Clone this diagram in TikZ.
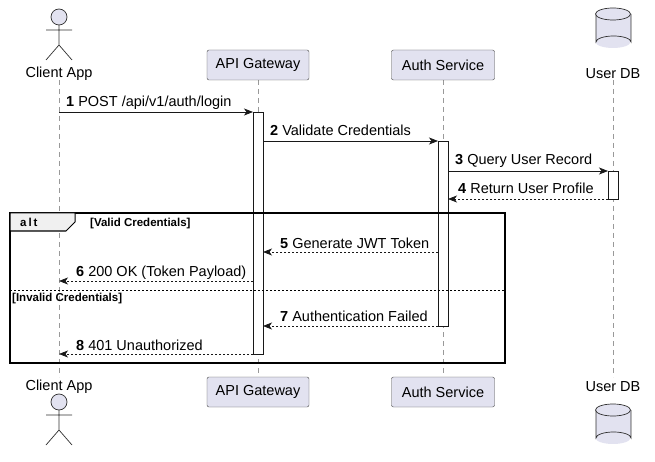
\documentclass[tikz,border=0pt]{standalone}
\usepackage{fontspec}
\setmainfont{Liberation Sans}
\usetikzlibrary{arrows.meta}
\definecolor{pbox}{HTML}{E2E2F0}
\definecolor{pline}{HTML}{181818}
\begin{document}
\begin{tikzpicture}[x=1pt,y=-1pt,
  font=\fontsize{14.5}{17}\selectfont,
  part/.style={draw=pline!80,fill=pbox,rounded corners=2pt,minimum width=#1,minimum height=30,inner sep=0},
  life/.style={draw=gray!80,dash pattern=on 5pt off 4pt,line width=0.6pt},
  act/.style={draw=pline,fill=white,line width=0.7pt},
  msg/.style={draw=pline,line width=0.7pt,-{Stealth[length=9pt,width=7pt,inset=2.5pt]}},
  ret/.style={msg,dash pattern=on 2pt off 2pt},
  lbl/.style={anchor=base west,inner sep=0},
  actor/.style={draw=pline!90,line width=0.7pt},
  grp/.style={font=\fontsize{11.5}{12}\bfseries\selectfont,anchor=base west,inner sep=0}]
\useasboundingbox (0,0) rectangle (655,462);
% lifelines
\coordinate (c1) at (59,80); \coordinate (c2) at (59,377);
\coordinate (a1) at (258,80); \coordinate (a2) at (258,377);
\coordinate (s1) at (443,80); \coordinate (s2) at (443,377);
\coordinate (d1) at (613,80); \coordinate (d2) at (613,377);
\draw[life] (c1)--(c2); \draw[life] (a1)--(a2); \draw[life] (s1)--(s2); \draw[life] (d1)--(d2);
% participants
\node[part=102] (apiT) at (258,65) {API Gateway};
\node[part=103] (authT) at (443,65) {Auth Service};
\node[part=102] (apiB) at (258,392) {API Gateway};
\node[part=103] (authB) at (443,392) {Auth Service};
\node (cliT) at (59,74) {Client App};
\node (cliB) at (59,387) {Client App};
\node (dbT) at (613,74) {User DB};
\node (dbB) at (613,387) {User DB};
% actors
\foreach \y in {9,394}{
  \draw[actor,fill=pbox] (59,\y+8) circle (8);
  \draw[actor] (59,\y+16)--(59,\y+36) (46,\y+21)--(72,\y+21)
    (46,\y+51)--(59,\y+36)--(72,\y+51);
}
% cylinders
\foreach \y in {8,404}{
  \fill[pbox] (596,\y+6) rectangle (631,\y+34);
  \fill[pbox] (613,\y+34) ellipse[x radius=17.5,y radius=6];
  \draw[actor] (596,\y+6) -- (596,\y+34) arc[start angle=180,end angle=360,x radius=17.5,y radius=6] -- (631,\y+6);
  \draw[actor,fill=pbox] (613,\y+6) ellipse[x radius=17.5,y radius=6];
}
% activations
\draw[act] (253,112) rectangle (263,354);
\draw[act] (438,141) rectangle (448,326);
\draw[act] (608,171) rectangle (618,199);
% alt frame
\draw[line width=1.2pt,draw=black] (10,213) rectangle (505,363);
\draw[line width=1pt,fill=gray!12] (10,213) -- (75,213) -- (75,222) -- (66,231) -- (10,231) -- cycle;
\node[grp] (altL) at (20,226) {a\,l\,t};
\node[grp] (g1) at (90,226) {[Valid Credentials]};
\draw[dash pattern=on 2pt off 2pt,line width=0.7pt] (10,290) -- (505,290);
\node[grp] (g2) at (12,301) {[Invalid Credentials]};
% messages
\coordinate (m1a) at (59,112); \coordinate (m1b) at (253,112);
\draw[msg] (m1a)--(m1b); \node[lbl] (l1) at (66,107) {\textbf{1} POST /api/v1/auth/login};
\coordinate (m2a) at (263,141); \coordinate (m2b) at (438,141);
\draw[msg] (m2a)--(m2b); \node[lbl] (l2) at (270,136) {\textbf{2} Validate Credentials};
\coordinate (m3a) at (448,171); \coordinate (m3b) at (608,171);
\draw[msg] (m3a)--(m3b); \node[lbl] (l3) at (455,165) {\textbf{3} Query User Record};
\coordinate (m4a) at (608,199); \coordinate (m4b) at (448,199);
\draw[ret] (m4a)--(m4b); \node[lbl] (l4) at (458,194) {\textbf{4} Return User Profile};
\coordinate (m5a) at (438,252); \coordinate (m5b) at (263,252);
\draw[ret] (m5a)--(m5b); \node[lbl] (l5) at (280,248) {\textbf{5} Generate JWT Token};
\coordinate (m6a) at (253,281); \coordinate (m6b) at (59,281);
\draw[ret] (m6a)--(m6b); \node[lbl] (l6) at (76,276) {\textbf{6} 200 OK (Token Payload)};
\coordinate (m7a) at (438,326); \coordinate (m7b) at (263,326);
\draw[ret] (m7a)--(m7b); \node[lbl] (l7) at (280,321) {\textbf{7} Authentication Failed};
\coordinate (m8a) at (253,354); \coordinate (m8b) at (59,354);
\draw[ret] (m8a)--(m8b); \node[lbl] (l8) at (76,350) {\textbf{8} 401 Unauthorized};
\end{tikzpicture}
\end{document}
